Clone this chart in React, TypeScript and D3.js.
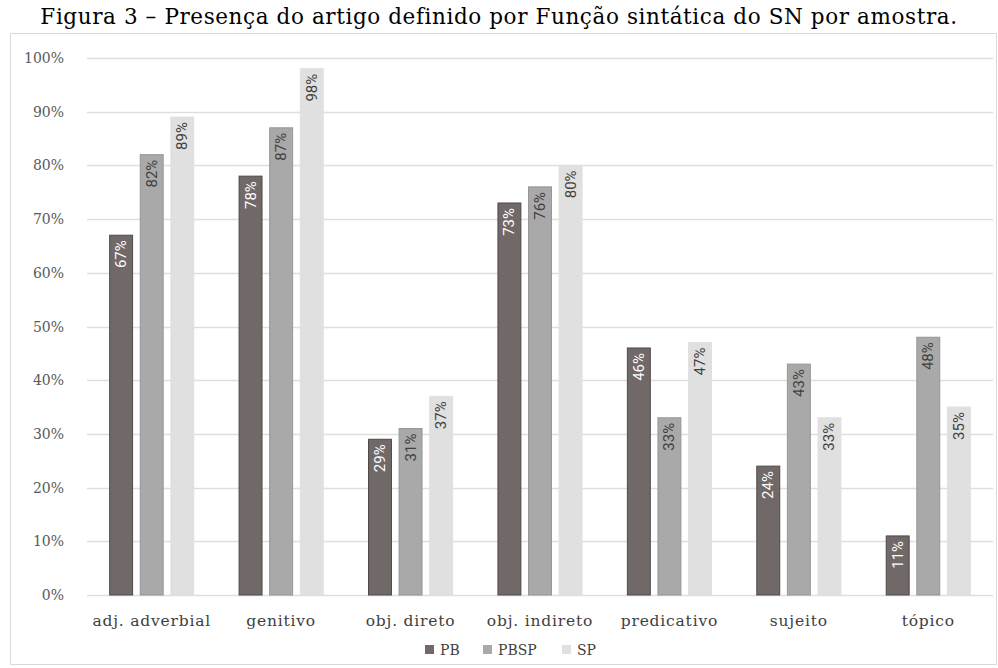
import React, { useEffect, useRef } from 'react';
import * as d3 from 'd3';

const categories = ['adj. adverbial', 'genitivo', 'obj. direto', 'obj. indireto', 'predicativo', 'sujeito', 'tópico'];
const seriesNames = ['PB', 'PBSP', 'SP'];
const pbValues = [67, 78, 29, 73, 46, 24, 11];
const pbspValues = [82, 87, 31, 76, 33, 43, 48];
const spValues = [89, 98, 37, 80, 47, 33, 35];
const yTicks = [0, 10, 20, 30, 40, 50, 60, 70, 80, 90, 100];

const App = () => {
  const ref = useRef<SVGSVGElement>(null);

  useEffect(() => {
    const width = 998;
    const height = 668;
    const margin = { top: 58, right: 5, bottom: 73, left: 87 };
    const serif = '"DejaVu Serif", serif';

    const svg = d3.select(ref.current);
    svg.selectAll('*').remove();

    // frame + title
    svg.append('rect')
      .attr('x', 10.5).attr('y', 33.5)
      .attr('width', 986).attr('height', 631)
      .attr('fill', '#fff').attr('stroke', '#d9d9d9');

    svg.append('text')
      .attr('x', width / 2).attr('y', 24)
      .attr('text-anchor', 'middle')
      .style('font-family', serif).style('font-size', '21.5px')
      .style('letter-spacing', '0.6px')
      .attr('fill', '#000')
      .text('Figura 3 – Presença do artigo definido por Função sintática do SN por amostra.');

    const x0 = d3.scaleBand()
      .domain(categories)
      .range([margin.left, width - margin.right])
      .paddingInner(0.35)
      .paddingOuter(0.175);

    const x1 = d3.scaleBand()
      .domain(seriesNames)
      .range([0, x0.bandwidth()])
      .paddingInner(0.25);

    const y = d3.scaleLinear()
      .domain([0, 100])
      .range([height - margin.bottom, margin.top]);

    const color = d3.scaleOrdinal<string, string>()
      .domain(seriesNames)
      .range(['#716868', '#a9a9a9', '#e0e0e0']);
    const stroke = d3.scaleOrdinal<string, string>()
      .domain(seriesNames)
      .range(['#4f4a4a', '#969696', '#e0e0e0']);
    const labelColor = d3.scaleOrdinal<string, string>()
      .domain(seriesNames)
      .range(['#ffffff', '#404040', '#404040']);

    // gridlines + y labels
    const yAxis = svg.append('g');
    yAxis.selectAll('line')
      .data(yTicks)
      .enter()
      .append('line')
      .attr('x1', margin.left).attr('x2', width - margin.right)
      .attr('y1', d => Math.round(y(d)) + 0.5).attr('y2', d => Math.round(y(d)) + 0.5)
      .attr('stroke', '#dedede').attr('stroke-width', 1.5);
    yAxis.selectAll('text')
      .data(yTicks)
      .enter()
      .append('text')
      .attr('x', 64).attr('y', d => y(d) + 5)
      .attr('text-anchor', 'end')
      .style('font-family', serif).style('font-size', '14px')
      .attr('fill', '#595959')
      .text(d => `${d}%`);

    const rows = categories.map((c, i) => ({
      category: c,
      values: [
        { key: 'PB', value: pbValues[i] },
        { key: 'PBSP', value: pbspValues[i] },
        { key: 'SP', value: spValues[i] },
      ],
    }));

    const groups = svg.append('g')
      .selectAll('g')
      .data(rows)
      .enter()
      .append('g')
      .attr('transform', d => `translate(${x0(d.category)},0)`);

    const bars = groups.selectAll('g')
      .data(d => d.values)
      .enter()
      .append('g');

    bars.append('rect')
      .attr('x', d => x1(d.key)!)
      .attr('y', d => y(d.value))
      .attr('width', x1.bandwidth())
      .attr('height', d => y(0) - y(d.value))
      .attr('fill', d => color(d.key))
      .attr('stroke', d => stroke(d.key))
      .attr('stroke-width', 1);

    bars.append('text')
      .attr('transform', d => `translate(${x1(d.key)! + x1.bandwidth() / 2 + 5},${y(d.value) + 5}) rotate(-90)`)
      .attr('text-anchor', 'end')
      .style('font-family', '"Liberation Sans Narrow", "Roboto", sans-serif')
      .style('font-size', '15px')
      .attr('fill', d => labelColor(d.key))
      .text(d => `${d.value}%`);

    // category labels
    svg.append('g')
      .selectAll('text')
      .data(categories)
      .enter()
      .append('text')
      .attr('x', d => x0(d)! + x0.bandwidth() / 2)
      .attr('y', 626)
      .attr('text-anchor', 'middle')
      .style('font-family', serif).style('font-size', '15.5px')
      .style('letter-spacing', '0.8px')
      .attr('fill', '#404040')
      .text(d => d);

    // legend
    const legendX = [425, 483, 562];
    const legend = svg.append('g')
      .selectAll('g')
      .data(seriesNames)
      .enter()
      .append('g')
      .attr('transform', (d, i) => `translate(${legendX[i]},645)`);
    legend.append('rect')
      .attr('width', 9).attr('height', 9)
      .attr('fill', d => color(d));
    legend.append('text')
      .attr('x', 15).attr('y', 10)
      .style('font-family', serif).style('font-size', '14px')
      .attr('fill', '#404040')
      .text(d => d);
  }, []);

  return (
    <svg
      ref={ref}
      width={998}
      height={668}
      style={{ position: 'absolute', left: 0, top: 0, background: '#fff' }}
    />
  );
};

export default App;
